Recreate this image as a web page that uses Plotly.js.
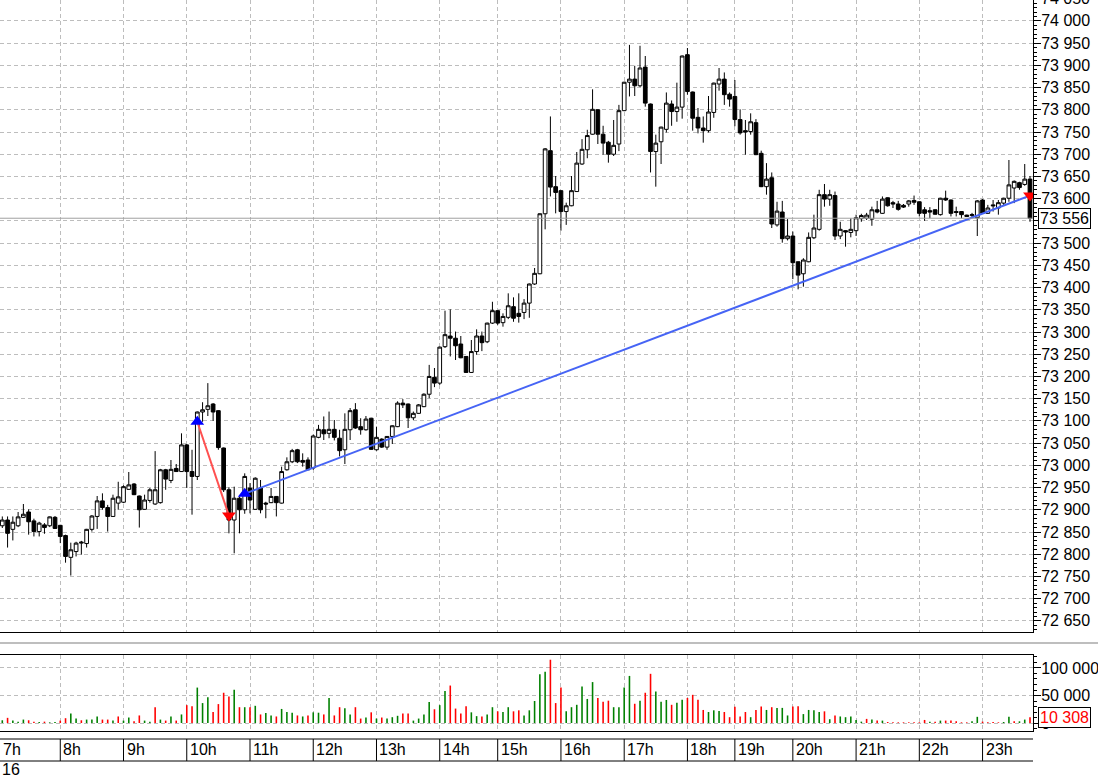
<!DOCTYPE html>
<html><head><meta charset="utf-8">
<script src="https://cdn.plot.ly/plotly-3.0.1.min.js"></script>
<style>html,body{margin:0;padding:0;background:#fff;overflow:hidden}#chart{width:1098px;height:778px}</style>
</head><body><div id="chart"></div>
<script>
// ---- data (5-minute candles) ----
const openP = [
72864,72877,72856,72864,72883,72895,72875,72851,72866,72864,
72883,72865,72842,72793,72806,72825,72824,72856,72885,72920,
72905,72885,72915,72917,72946,72958,72931,72901,72921,72913,
72916,72990,72966,72993,72986,73046,72986,72975,73120,73126,
73138,73123,73039,72945,72877,72926,72900,72949,72901,72949,
72915,72916,72930,72915,72990,73008,73035,73011,73012,72994,
73063,73080,73072,73081,73061,73035,73080,73125,73087,73080,
73106,73035,73059,73041,73065,73087,73140,73138,73107,73117,
73132,73160,73198,73185,73267,73291,73286,73273,73245,73209,
73256,73291,73278,73320,73348,73321,73333,73357,73342,73344,
73365,73408,73431,73566,73708,73627,73618,73571,73584,73616,
73678,73710,73745,73800,73745,73727,73700,73723,73798,73862,
73869,73854,73896,73813,73706,73728,73756,73813,73796,73806,
73924,73840,73783,73759,73753,73794,73858,73869,73835,73830,
73778,73753,73751,73771,73702,73627,73647,73541,73570,73510,
73516,73458,73431,73458,73512,73531,73609,73599,73607,73516,
73528,73524,73528,73555,73556,73554,73575,73567,73602,73591,
73588,73585,73588,73596,73593,73575,73573,73575,73564,73601,
73597,73571,73571,73563,73562,73557,73597,73567,73586,73579,
73590,73601,73624,73636,73632,73644];
const highP = [
72885,72885,72885,72895,72913,72901,72880,72873,72870,72885,
72886,72866,72844,72826,72828,72830,72857,72888,72931,72937,
72911,72934,72963,72955,72985,72960,72932,72934,72949,73032,
72992,72992,73012,73003,73072,73048,73035,73121,73142,73185,
73140,73124,73040,72951,72952,72930,72982,72960,72973,72967,
72918,72949,72931,72997,73018,73037,73037,73027,73018,73069,
73091,73110,73121,73102,73080,73117,73129,73140,73106,73111,
73107,73087,73061,73066,73090,73144,73149,73139,73121,73138,
73162,73226,73219,73267,73348,73351,73301,73291,73246,73282,
73306,73301,73321,73368,73349,73342,73387,73378,73387,73374,
73409,73444,73567,73714,73785,73651,73619,73591,73651,73705,
73734,73755,73846,73801,73764,73730,73777,73811,73863,73946,
73899,73944,73921,73814,73744,73762,73839,73821,73861,73922,
73939,73841,73804,73785,73831,73861,73894,73884,73839,73867,
73801,73777,73792,73779,73708,73680,73659,73593,73595,73554,
73526,73459,73466,73524,73564,73620,73633,73620,73616,73548,
73529,73556,73564,73566,73568,73582,73595,73605,73603,73595,
73595,73588,73597,73607,73594,73581,73581,73576,73602,73618,
73598,73582,73572,73564,73568,73597,73599,73586,73597,73597,
73602,73687,73641,73638,73678,73651];
const lowP = [
72859,72815,72831,72861,72882,72844,72840,72840,72846,72861,
72857,72825,72781,72752,72795,72799,72815,72851,72857,72900,
72851,72884,72900,72915,72945,72933,72860,72900,72916,72911,
72914,72945,72960,72985,72985,72949,72889,72967,73098,73111,
73100,73035,72940,72847,72802,72847,72891,72892,72900,72892,
72881,72915,72885,72914,72988,73005,73005,72997,72989,72990,
73061,73057,73061,73056,73020,73003,73057,73082,73069,73078,
73035,73033,73039,73035,73048,73086,73129,73084,73102,73116,
73131,73151,73176,73181,73264,73245,73237,73241,73208,73208,
73249,73257,73275,73318,73316,73312,73329,73323,73321,73329,
73332,73406,73430,73531,73605,73567,73528,73541,73583,73615,
73676,73691,73744,73723,73699,73681,73696,73707,73797,73830,
73831,73851,73807,73659,73627,73678,73749,73764,73773,73780,
73834,73753,73747,73726,73749,73782,73843,73811,73807,73763,
73744,73699,73744,73698,73626,73609,73534,73537,73501,73506,
73419,73396,73402,73457,73509,73528,73582,73584,73507,73509,
73492,73513,73516,73548,73552,73539,73567,73566,73582,73579,
73573,73579,73582,73586,73560,73550,73556,73564,73562,73595,
73560,73560,73556,73559,73558,73516,73566,73566,73571,73564,
73586,73593,73590,73620,73629,73548];
const closeP = [
72877,72847,72872,72884,72890,72873,72851,72870,72860,72884,
72858,72840,72795,72810,72825,72827,72856,72886,72920,72905,
72885,72926,72929,72952,72956,72934,72900,72922,72945,72945,
72990,72969,72991,72986,73046,72986,72975,73120,73125,73134,
73120,73040,72945,72877,72926,72900,72975,72922,72971,72900,
72913,72930,72916,72986,73008,73033,73008,73007,72990,73066,
73081,73071,73081,73063,73033,73081,73123,73084,73080,73104,
73036,73063,73041,73065,73089,73140,73136,73107,73117,73136,
73160,73200,73185,73266,73294,73286,73269,73242,73209,73256,
73291,73276,73320,73348,73320,73335,73359,73331,73335,73365,
73408,73432,73566,73712,73626,73614,73571,73584,73618,73680,
73711,73742,73801,73745,73725,73700,73720,73798,73862,73869,
73854,73894,73815,73706,73725,73761,73815,73796,73806,73921,
73841,73781,73759,73753,73795,73860,73869,73834,73824,73778,
73748,73750,73773,73699,73627,73644,73543,73572,73510,73516,
73456,73428,73462,73513,73534,73609,73599,73609,73516,73531,
73525,73531,73557,73562,73563,73575,73570,73599,73584,73588,
73576,73581,73595,73592,73567,73567,73570,73565,73601,73597,
73567,73569,73564,73560,73564,73595,73567,73579,73584,73591,
73601,73631,73639,73625,73644,73556];
const volume = [
5000,9400,4400,2500,6250,5000,2500,1900,2500,1250,
1900,4400,8750,17500,8100,5000,6250,6250,11900,6250,
6250,4400,11900,4400,10000,3100,13750,4400,2500,28750,
6250,4400,11900,4400,15600,32500,30600,64400,36250,46900,
20000,34400,55000,48000,60600,28750,28750,28750,31250,15600,
18100,13750,11900,25600,20000,18750,13750,11900,13750,19400,
18750,15600,45600,13750,28750,26900,15600,28750,8100,10000,
19400,8100,10000,8100,10600,13100,17500,17500,4400,8100,
15600,38100,25000,32500,58100,68100,26250,17500,30600,19400,
12500,11900,15600,28750,21250,20000,28750,21250,23100,13750,
23100,40000,88750,93100,115000,36250,64400,21250,28750,33100,
66250,43750,74400,45600,38750,40600,28750,28750,64400,85600,
35000,40600,55000,89400,57500,38750,41900,33100,36900,42500,
45600,51250,42500,23750,20000,23100,21900,20000,10600,29400,
11900,20000,10600,23750,30000,23750,28750,27500,27500,13750,
30000,30600,16250,23750,23100,20000,21250,6900,13750,11900,
10600,11900,5600,2500,7500,6250,4400,4400,1900,1250,
1250,1250,1250,1250,1250,5600,2500,2500,4400,4400,
4400,3100,1250,1250,3100,11250,2500,1250,1900,1250,
1900,11250,3100,3100,6250,10308];
const volumeSide = [
'G','R','G','G','G','R','R','G','R','G',
'G','R','R','G','G','R','G','G','G','R',
'R','G','R','G','G','R','R','G','G','R',
'G','R','G','R','G','R','R','G','G','G',
'R','R','R','R','G','R','G','R','G','R',
'G','G','R','G','G','G','R','G','R','G',
'G','R','G','R','R','G','G','R','R','G',
'R','G','R','G','G','G','R','R','G','G',
'G','G','R','G','G','R','R','R','R','G',
'G','R','G','G','R','G','G','R','R','G',
'G','G','G','G','R','R','R','G','G','G',
'G','G','G','R','R','R','G','G','G','G',
'R','G','R','R','G','G','G','R','G','G',
'R','R','R','R','G','G','G','R','R','R',
'R','R','G','R','R','G','R','G','G','G',
'R','R','G','G','G','G','R','G','R','G',
'G','G','G','G','R','G','R','G','R','R',
'R','R','R','R','R','R','G','R','G','R',
'R','R','R','R','G','G','R','R','R','R',
'G','G','R','G','G','R'];
const hourLabels = ['7h','8h','9h','10h','11h','12h','13h','14h','15h','16h','17h','18h','19h','20h','21h','22h','23h'];
const hourStart  = [0,11,23,35,47,59,71,83,94,106,118,130,139,150,162,174,186];
const lastPrice = 73556;
const lastVolume = 10308;
const topCutLabel = '74 050';
const trendX = [46,195],  trendY = [72936,73607];
const swingX = [37,43],   swingY = [73098,72887];
const buyX  = [37,46],    buyY  = [73098,72936];
const sellX = [43,195],   sellY = [72887,73607];
const dayLabel = '16';

// ---- drawing ----
const FONT = 'Liberation Sans, Arial, sans-serif';
const idx = openP.map((_, i) => i);
const XR = [-0.436, 195.57];
const gridStarts = hourStart.slice(1);
const PLOT_H = 731;           // plot area height in px
const py = p => (PLOT_H - p) / PLOT_H;   // pixel row -> paper y

const traces = [
  {type:'candlestick', x:idx, open:openP, high:highP, low:lowP, close:closeP,
   xaxis:'x', yaxis:'y', whiskerwidth:0, hoverinfo:'skip',
   increasing:{line:{color:'#000', width:1}, fillcolor:'#fff'},
   decreasing:{line:{color:'#000', width:1}, fillcolor:'#000'}},
  {type:'scatter', mode:'lines', x:swingX, y:swingY, xaxis:'x', yaxis:'y',
   line:{color:'rgb(255,80,80)', width:2}, hoverinfo:'skip'},
  {type:'scatter', mode:'lines', x:trendX, y:trendY, xaxis:'x', yaxis:'y',
   line:{color:'rgb(70,100,245)', width:2}, hoverinfo:'skip'},
  {type:'scatter', mode:'markers', x:buyX, y:buyY, xaxis:'x', yaxis:'y',
   marker:{symbol:'triangle-up', size:12, color:'#0000ff'}, hoverinfo:'skip'},
  {type:'scatter', mode:'markers', x:sellX, y:sellY, xaxis:'x', yaxis:'y',
   marker:{symbol:'triangle-down', size:12, color:'#ff0000'}, hoverinfo:'skip'},
  {type:'bar', x:idx, y:volume, xaxis:'x2', yaxis:'y2', width:0.3,
   marker:{color:volumeSide.map(s => s === 'G' ? '#008000' : '#ff0000'), line:{width:0}},
   hoverinfo:'skip'}
];

const gridCol = '#bdbdbd';
const shapes = [
  {type:'line', xref:'paper', yref:'y', x0:0, x1:1, y0:lastPrice, y1:lastPrice,
   line:{color:'#a0a0a0', width:1}},
  {type:'line', xref:'paper', yref:'paper', x0:0, x1:1098/1033, y0:py(643), y1:py(643),
   line:{color:'#a8a8a8', width:1.5}},
  {type:'line', xref:'paper', yref:'paper', x0:0, x1:1, y0:py(739), y1:py(739),
   line:{color:'#000', width:1}},
  {type:'line', xref:'paper', yref:'paper', x0:0, x1:1, y0:py(761), y1:py(761),
   line:{color:'#000', width:1}}
];
gridStarts.forEach(h => shapes.push({type:'line', xref:'x', yref:'paper', x0:h, x1:h,
  y0:py(739), y1:py(761), line:{color:'#000', width:1}}));

const annotations = [];
hourLabels.forEach((t, k) => {
  annotations.push({text:t, showarrow:false, xref: k === 0 ? 'paper' : 'x',
    x: k === 0 ? 0 : hourStart[k], xanchor:'left', xshift:1,
    yref:'paper', y:py(750), yanchor:'middle', font:{family:FONT, size:16, color:'#000'}});
});
annotations.push({text:dayLabel, showarrow:false, xref:'paper', x:0, xanchor:'left',
  yref:'paper', y:py(769), yanchor:'middle', font:{family:FONT, size:16, color:'#000'}});
annotations.push({text:'73 556', showarrow:false, xref:'paper', x:1, xanchor:'left', xshift:5,
  yref:'y', y:lastPrice, yanchor:'middle', bgcolor:'#fff', bordercolor:'#000', borderwidth:1, borderpad:1,
  font:{family:FONT, size:16, color:'#000'}});
annotations.push({text:'10 308', showarrow:false, xref:'paper', x:1, xanchor:'left', xshift:5,
  yref:'y2', y:lastVolume, yanchor:'middle', bgcolor:'#fff', bordercolor:'#000', borderwidth:1, borderpad:1,
  font:{family:FONT, size:16, color:'#ff0000'}});
annotations.push({text:topCutLabel, showarrow:false, xref:'paper', x:1, xanchor:'left', xshift:6,
  yref:'paper', y:py(-1.5), yanchor:'middle', font:{family:FONT, size:16, color:'#000'}});

const layout = {
  width:1098, height:778, margin:{l:0, r:65, t:0, b:47, pad:0},
  paper_bgcolor:'#fff', plot_bgcolor:'#fff', showlegend:false,
  separators:', ', boxgap:0.12, boxgroupgap:0.2,
  font:{family:FONT, size:16, color:'#000'},
  xaxis:{domain:[0,1], range:XR, anchor:'y', type:'linear', rangeslider:{visible:false},
    tickmode:'array', tickvals:gridStarts, showticklabels:false, ticks:'',
    showgrid:true, gridcolor:gridCol, griddash:'4px,3px', gridwidth:1, zeroline:false,
    showline:true, linecolor:'#000', linewidth:1, fixedrange:true},
  yaxis:{domain:[py(632),1], range:[72625, 74047], side:'right', anchor:'x',
    tickmode:'linear', tick0:0, dtick:50, tickformat:',d', ticks:'outside', ticklen:7,
    ticklabelstandoff:-3,
    tickcolor:'#000', tickfont:{family:FONT, size:16, color:'#000'},
    minor:{dtick:10, tick0:0, ticks:'outside', ticklen:3, tickcolor:'#000', showgrid:false},
    showgrid:true, gridcolor:gridCol, griddash:'4px,3px', zeroline:false,
    showline:true, linecolor:'#000', linewidth:1, fixedrange:true},
  xaxis2:{domain:[0,1], range:XR, anchor:'y2', matches:'x', type:'linear',
    tickmode:'array', tickvals:gridStarts, showticklabels:false, ticks:'',
    showgrid:true, gridcolor:gridCol, griddash:'4px,3px', zeroline:false,
    showline:true, mirror:true, linecolor:'#000', linewidth:1, fixedrange:true},
  yaxis2:{domain:[0, py(655)], range:[-14500, 123600], side:'right', anchor:'x2',
    tickmode:'linear', tick0:0, dtick:50000, tickformat:',d', ticks:'outside', ticklen:7,
    ticklabelstandoff:-3,
    tickcolor:'#000', tickfont:{family:FONT, size:16, color:'#000'},
    minor:{dtick:10000, tick0:0, ticks:'outside', ticklen:3, tickcolor:'#000', showgrid:false},
    showgrid:true, gridcolor:gridCol, griddash:'4px,3px', zeroline:false,
    showline:true, linecolor:'#000', linewidth:1, fixedrange:true},
  shapes:shapes, annotations:annotations
};

Plotly.newPlot('chart', traces, layout, {displayModeBar:false, staticPlot:true});
</script></body></html>
